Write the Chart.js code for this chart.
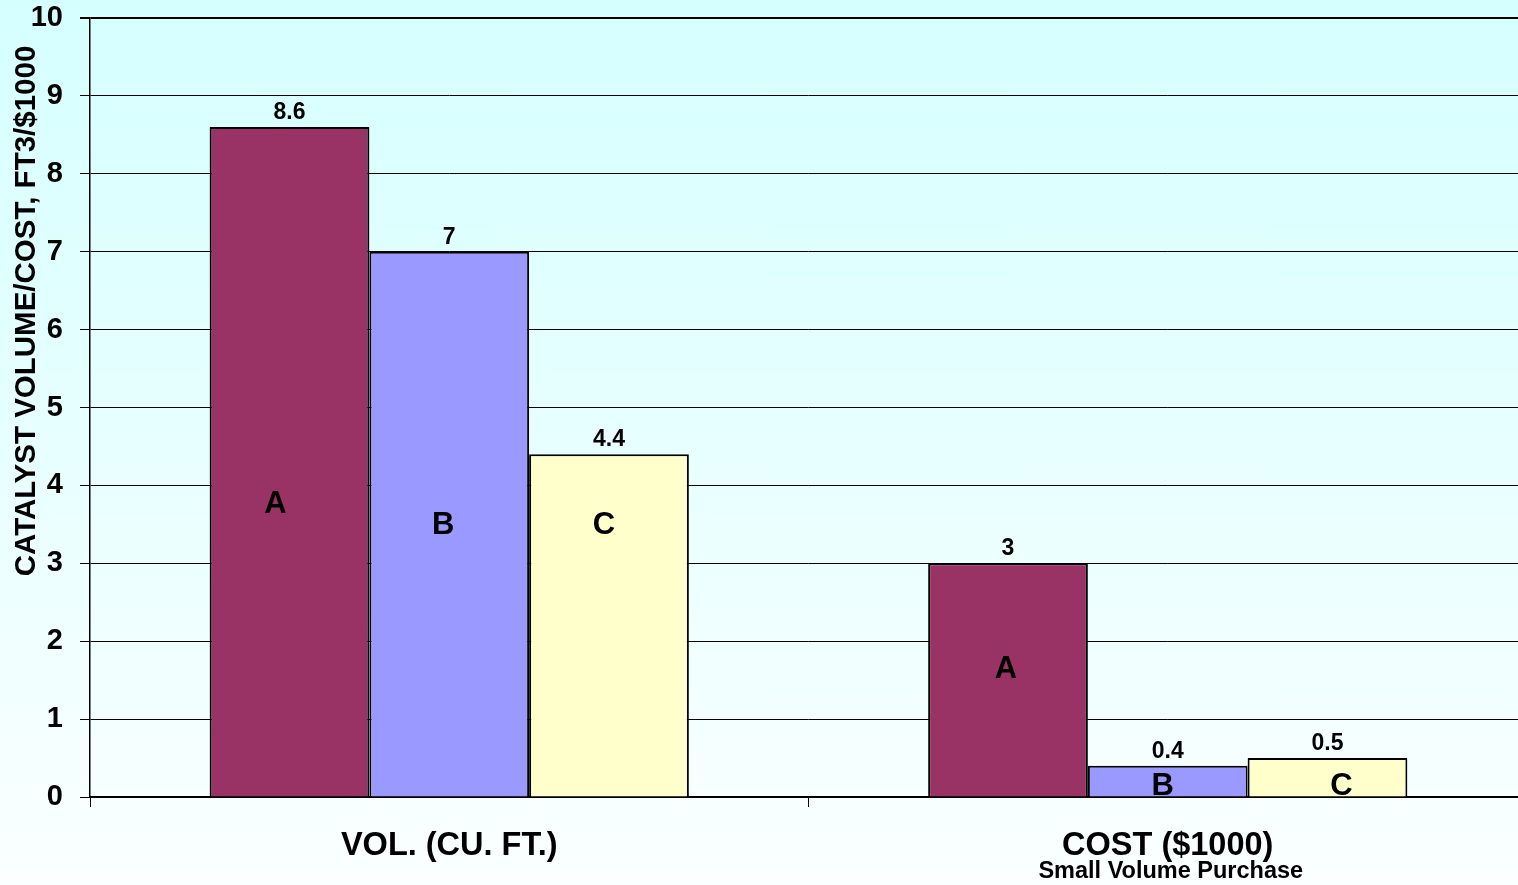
<!DOCTYPE html>
<html>
<head>
<meta charset="utf-8">
<title>Catalyst volume and cost</title>
<script src="https://cdn.jsdelivr.net/npm/chart.js@4.4.1/dist/chart.umd.min.js"></script>
<style>
  html, body {
    margin: 0;
    padding: 0;
    width: 1518px;
    height: 885px;
    overflow: hidden;
    background: linear-gradient(to bottom, #d5ffff 0%, #e9ffff 55%, #fbffff 100%);
  }
  #wrap {
    position: absolute;
    left: 0;
    top: 0;
    width: 1527px;
    height: 885px;
  }
</style>
</head>
<body>
<div id="wrap"><canvas id="chart" width="1527" height="885"></canvas></div>
<script>
// Categories along the x axis
const categories = ['VOL. (CU. FT.)', 'COST ($1000)'];
// Catalyst suppliers
const seriesNames = ['A', 'B', 'C'];
// Values per supplier, one per category
const valuesA = [8.6, 3];
const valuesB = [7, 0.4];
const valuesC = [4.4, 0.5];
// Y axis range
const yMin = 0;
const yMax = 10;
const yStep = 1;

const yTitle = 'CATALYST VOLUME/COST, FT3/$1000';
const footNote = 'Small Volume Purchase';

const FONT = '"Liberation Sans", Arial, Helvetica, sans-serif';

// Writes the value over each bar and the supplier letter inside it
const barText = {
  id: 'barText',
  afterDatasetsDraw(chart, args, opts) {
    const ctx = chart.ctx;
    const yScale = chart.scales.y;
    ctx.save();
    ctx.fillStyle = '#000';
    ctx.textAlign = 'center';
    ctx.textBaseline = 'alphabetic';
    chart.data.datasets.forEach((ds, di) => {
      const meta = chart.getDatasetMeta(di);
      meta.data.forEach((bar, i) => {
        ctx.font = 'bold 23px ' + FONT;
        ctx.fillText(String(ds.data[i]), bar.x, bar.y - 8);
        ctx.font = 'bold 31px ' + FONT;
        const lvl = opts.letterLevels[di][i];
        const dx = opts.letterShift[di][i];
        ctx.fillText(ds.label, bar.x + dx, yScale.getPixelForValue(lvl));
      });
    });
    ctx.restore();
  }
};

// Rotated y axis title and the note under the cost group
const sideText = {
  id: 'sideText',
  afterDraw(chart) {
    const ctx = chart.ctx;
    ctx.save();
    ctx.fillStyle = '#000';
    ctx.textAlign = 'center';
    ctx.textBaseline = 'middle';
    ctx.font = 'bold 29.5px ' + FONT;
    ctx.translate(27, 311);
    ctx.rotate(-Math.PI / 2);
    ctx.fillText(yTitle, 0, 0);
    ctx.restore();

    ctx.save();
    ctx.fillStyle = '#000';
    ctx.textAlign = 'center';
    ctx.textBaseline = 'alphabetic';
    ctx.font = 'bold 23.5px ' + FONT;
    const xs = chart.scales.x;
    ctx.fillText(footNote, xs.getPixelForValue(1) + 3, 878);
    ctx.restore();
  }
};

const fills = ['#993366', '#9999ff', '#ffffcc'];
const seriesValues = [valuesA, valuesB, valuesC];

new Chart(document.getElementById('chart'), {
  type: 'bar',
  data: {
    labels: categories,
    datasets: seriesNames.map((name, k) => ({
      label: name,
      data: seriesValues[k],
      backgroundColor: fills[k],
      borderColor: '#000',
      borderWidth: 2,
      categoryPercentage: 0.667,
      barPercentage: 1.0
    }))
  },
  options: {
    responsive: false,
    animation: false,
    events: [],
    layout: { padding: { top: 18, right: 0, left: 0, bottom: 0 } },
    plugins: {
      legend: { display: false },
      title: { display: false },
      tooltip: { enabled: false },
      barText: {
        letterLevels: [[3.65, 1.53], [3.38, 0.03], [3.38, 0.03]],
        letterShift: [[-14, -2], [-6, -5], [-5, 14]]
      }
    },
    scales: {
      x: {
        offset: true,
        grid: {
          display: true,
          offset: true,
          drawOnChartArea: false,
          drawTicks: true,
          tickLength: 10,
          color: '#000',
          lineWidth: 1
        },
        border: { display: true, color: '#000', width: 2 },
        ticks: {
          color: '#000',
          font: { family: FONT, size: 32.5, weight: 'bold' },
          padding: 20,
          maxRotation: 0
        },
        afterFit(scale) {
          scale.height = 88;
          scale.paddingLeft = 0;
          scale.paddingRight = 0;
        }
      },
      y: {
        min: yMin,
        max: yMax,
        ticks: {
          stepSize: yStep,
          color: '#000',
          font: { family: FONT, size: 29, weight: 'bold' },
          padding: 17
        },
        grid: {
          color: '#000',
          lineWidth: (c) => (c.tick && c.tick.value === yMax ? 2 : 1),
          tickLength: 10
        },
        border: { display: true, color: '#000', width: 1.5 },
        afterFit(scale) {
          scale.width = 90;
          scale.paddingTop = 0;
          scale.paddingBottom = 0;
        }
      }
    }
  },
  plugins: [barText, sideText]
});
</script>
</body>
</html>
